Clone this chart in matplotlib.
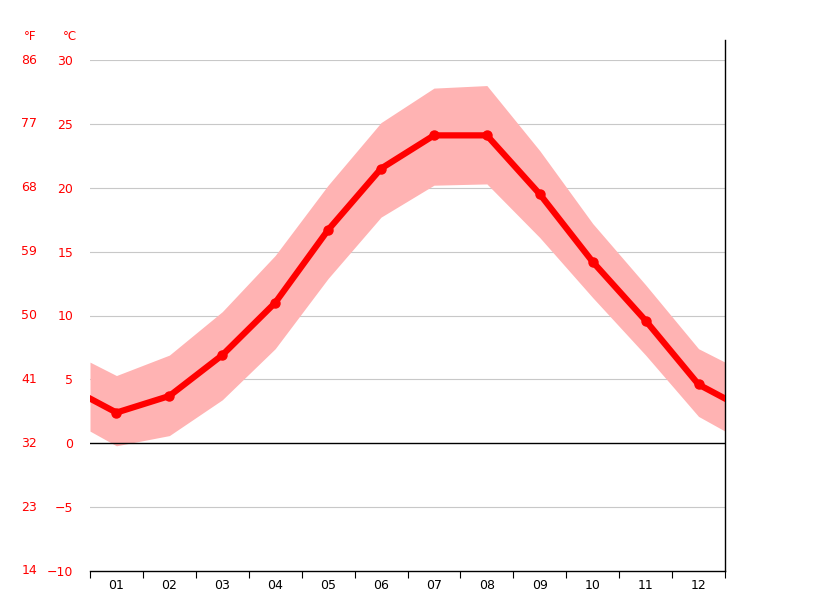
import numpy as np
import matplotlib
matplotlib.use("Agg")
import matplotlib.pyplot as plt
from matplotlib.transforms import blended_transform_factory

months = ["01", "02", "03", "04", "05", "06", "07", "08", "09", "10", "11", "12"]
temp_avg = [2.4, 3.7, 6.9, 11.0, 16.7, 21.5, 24.1, 24.1, 19.5, 14.2, 9.6, 4.6]
temp_max = [5.3, 6.9, 10.3, 14.7, 20.2, 25.1, 27.8, 28.0, 22.9, 17.2, 12.4, 7.4]
temp_min = [-0.2, 0.6, 3.4, 7.4, 12.9, 17.7, 20.2, 20.3, 16.1, 11.4, 6.9, 2.1]
c_ticks = [-10, -5, 0, 5, 10, 15, 20, 25, 30]
f_ticks = [14, 23, 32, 41, 50, 59, 68, 77, 86]


def wrap(vals):
    # extend to the plot edges with the Dec/Jan midpoint
    edge = (vals[0] + vals[-1]) / 2
    x = np.concatenate([[0], np.arange(12) + 0.5, [12]])
    y = np.concatenate([[edge], vals, [edge]])
    return x, y


fig = plt.figure(figsize=(8.15, 6.11), dpi=100)
ax = fig.add_axes([90 / 815, 1 - 571 / 611, 635 / 815, 511 / 611])

xb, yhi = wrap(temp_max)
_, ylo = wrap(temp_min)
ax.fill_between(xb, ylo, yhi, color="#ffb3b3", lw=0, zorder=1)
xa, ya = wrap(temp_avg)
ax.plot(xa, ya, color="#ff0000", lw=4.5, zorder=3, solid_joinstyle="round")
ax.plot(np.arange(12) + 0.5, temp_avg, "o", color="#ff0000", ms=6.5, zorder=4)

for t in c_ticks:
    if t == 0:
        ax.axhline(0, color="black", lw=1, zorder=2)
    elif t != -10:
        ax.axhline(t, color="#c8c8c8", lw=0.8, zorder=0)

ax.set_xlim(0, 12)
ax.set_ylim(-10, 30)
ax.set_xticks(np.arange(13), minor=False)
ax.set_xticklabels([])
ax.set_xticks(np.arange(12) + 0.5, minor=True)
ax.set_xticklabels(months, minor=True, fontsize=9)
ax.tick_params(axis="x", which="minor", length=0, pad=6)
ax.tick_params(axis="x", which="major", length=5, color="black")
ax.set_yticks(c_ticks)
ax.set_yticklabels([str(t).replace("-", "\u2212") for t in c_ticks], color="#ff0000", fontsize=9)
ax.tick_params(axis="y", length=0, pad=12)
for s in ["top", "left"]:
    ax.spines[s].set_visible(False)
ax.spines["right"].set_linewidth(1)
ax.spines["bottom"].set_linewidth(1)
ax.spines["right"].set_bounds(-10, 31.6)

tr = blended_transform_factory(fig.transFigure, ax.transData)
for c, f in zip(c_ticks, f_ticks):
    fig.text(37 / 815, c, str(f), transform=tr, color="#ff0000", fontsize=9,
             ha="right", va="center")
fig.text(30 / 815, 1 - 36 / 611, "°F", color="#ff0000", fontsize=8.5, ha="center", va="center")
fig.text(70 / 815, 1 - 36 / 611, "°C", color="#ff0000", fontsize=8.5, ha="center", va="center")

fig.savefig("out.png", dpi=100)
